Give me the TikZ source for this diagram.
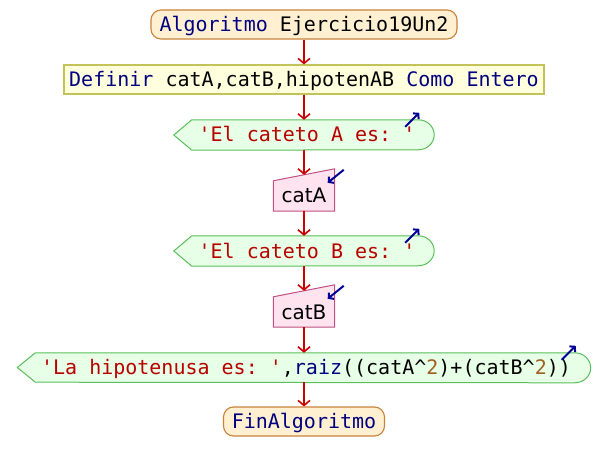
\documentclass[tikz,border=0pt]{standalone}
\usepackage{fontspec}
\setmonofont{DejaVu Sans Mono}
\setsansfont{DejaVu Sans}
\usetikzlibrary{arrows.meta,backgrounds}

\definecolor{kw}{RGB}{0,0,128}
\definecolor{str}{RGB}{185,0,0}
\definecolor{num}{RGB}{160,96,32}
\definecolor{flow}{RGB}{204,0,0}
\definecolor{iomark}{RGB}{0,0,150}
\definecolor{termfill}{RGB}{255,240,210}
\definecolor{termdraw}{RGB}{200,130,60}
\definecolor{declfill}{RGB}{255,255,221}
\definecolor{decldraw}{RGB}{195,195,90}
\definecolor{outfill}{RGB}{230,255,230}
\definecolor{outdraw}{RGB}{90,190,90}
\definecolor{infill}{RGB}{255,228,240}
\definecolor{indraw}{RGB}{190,80,130}

\tikzset{
  txt/.style={inner sep=0pt, text height=14pt, text depth=0pt,
    font=\ttfamily\fontsize{20}{24}\selectfont},
  terminal/.style={txt, draw=termdraw, fill=termfill, line width=1.1pt,
    rounded corners=10pt},
  decl/.style={txt, draw=decldraw, fill=declfill, line width=1.1pt},
  outbox/.style={txt},
  inbox/.style={txt, font=\sffamily\fontsize{20}{24}\selectfont},
  outline out/.style={draw=outdraw, fill=outfill, line width=1pt},
  outline in/.style={draw=indraw, fill=infill, line width=1pt},
  flowline/.style={draw=flow, line width=1.6pt,
    -{Straight Barb[length=5pt,width=12pt,line width=1.6pt]}},
  iomarker/.style={draw=iomark, line width=2pt,
    -{Straight Barb[length=3.5pt,width=8pt,line width=2pt]}}
}

% output symbol: pointed left end, rounded right end
\newcommand\outshape[1]{%
  \path[outline out] (#1.west) -- ([xshift=18pt]#1.north west)
    -- ([xshift=-16pt]#1.north east)
    arc[start angle=90,end angle=-90,x radius=16pt,y radius=15pt]
    -- ([xshift=18pt]#1.south west) -- cycle;}
% input symbol: box with a sloped top edge
\newcommand\inshape[1]{%
  \path[outline in] (#1.south west) -- (#1.south east)
    -- ([yshift=12pt]#1.north east) -- (#1.north west) -- cycle;}

\begin{document}
\begin{tikzpicture}[x=1pt,y=1pt]
\useasboundingbox (0,0) rectangle (608,472);

\node[terminal, minimum width=306pt, minimum height=29pt] (start) at (304,447.5)
  {\textcolor{kw}{Algoritmo} Ejercicio19Un2};
\node[decl, minimum width=480pt, minimum height=29pt] (def) at (304,392.5)
  {\textcolor{kw}{Definir} catA,catB,hipotenAB \textcolor{kw}{Como Entero}};
\node[outbox, minimum width=260pt, minimum height=30pt] (out1) at (304,337)
  {\hspace*{6pt}\textcolor{str}{'El cateto A es: '}};
\node[inbox, minimum width=61pt, minimum height=30pt] (inA) at (304,276) {catA};
\node[outbox, minimum width=260pt, minimum height=30pt] (out2) at (304,221)
  {\hspace*{6pt}\textcolor{str}{'El cateto B es: '}};
\node[inbox, minimum width=61pt, minimum height=30pt] (inB) at (304,160) {catB};
\node[outbox, minimum width=573pt, minimum height=29pt] (out3) at (304,104.5)
  {\hspace*{4pt}\textcolor{str}{'La hipotenusa es: '},\textcolor{kw}{raiz}((catA\^{}\textcolor{num}{2})+(catB\^{}\textcolor{num}{2}))};
\node[terminal, minimum width=161pt, minimum height=29pt] (fin) at (304,50.5)
  {\textcolor{kw}{FinAlgoritmo}};

\begin{pgfonlayer}{background}
  \outshape{out1}
  \outshape{out2}
  \outshape{out3}
  \inshape{inA}
  \inshape{inB}
\end{pgfonlayer}

% middle points of the sloped tops of the input symbols
\coordinate (inAtop) at ([yshift=6pt]inA.north);
\coordinate (inBtop) at ([yshift=6pt]inB.north);

\draw[flowline] (start.south) -- (def.north);
\draw[flowline] (def.south) -- (out1.north);
\draw[flowline] (out1.south) -- (inAtop);
\draw[flowline] (inA.south) -- (out2.north);
\draw[flowline] (out2.south) -- (inBtop);
\draw[flowline] (inB.south) -- (out3.north);
\draw[flowline] (out3.south) -- (fin.north);

% corner markers of the input and output symbols
\draw[iomarker] ([shift={(-29,-7)}]out1.north east) -- ([shift={(-15,7)}]out1.north east);
\draw[iomarker] ([shift={(-29,-7)}]out2.north east) -- ([shift={(-15,7)}]out2.north east);
\draw[iomarker] ([shift={(-29,-7)}]out3.north east) -- ([shift={(-15,7)}]out3.north east);
\draw[iomarker] ([shift={(9,11)}]inA.north east) -- ([shift={(-7,-2)}]inA.north east);
\draw[iomarker] ([shift={(9,11)}]inB.north east) -- ([shift={(-7,-2)}]inB.north east);
\end{tikzpicture}
\end{document}
